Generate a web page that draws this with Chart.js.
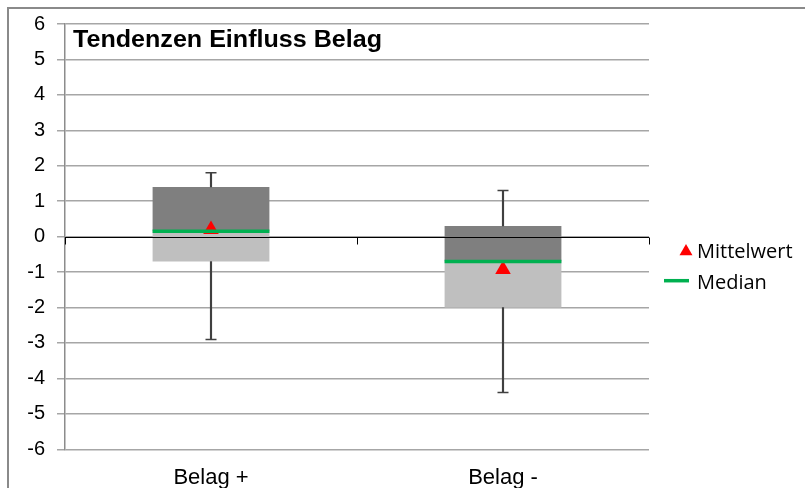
<!DOCTYPE html>
<html>
<head>
<meta charset="utf-8">
<script src="https://cdn.jsdelivr.net/npm/chart.js@4.4.1/dist/chart.umd.min.js"></script>
<style>
  html, body { margin: 0; padding: 0; background: #fff; }
  #wrap { position: relative; width: 805px; height: 488px; }
</style>
</head>
<body>
<div id="wrap"><canvas id="c" width="805" height="488"></canvas></div>
<script>
// Box plot summary per category
const categories  = ['Belag +', 'Belag -'];
const whiskerLow  = [-2.9, -4.4];
const quartile1   = [-0.7, -2.0];
const median      = [0.15, -0.7];
const quartile3   = [1.4, 0.3];
const whiskerHigh = [1.8, 1.3];
const mean        = [0.2, -0.93];

const yMin = -6, yMax = 6, yStep = 1;
const chartTitle = 'Tendenzen Einfluss Belag';
const legendLabels = ['Mittelwert', 'Median'];

const ARIAL = "'Liberation Sans', Arial, sans-serif";
const LEGEND_FONT = "'Open Sans', 'Noto Sans', sans-serif";
const RED = '#ff0000', GREEN = '#00b050', WHISKER = '#404040';

const pair = (a, b) => categories.map((_, i) => [a[i], b[i]]);

// Frame, zero axis with category dividers, title and legend
const decor = {
  id: 'decor',
  beforeDraw(chart) {
    const ctx = chart.ctx;
    ctx.save();
    ctx.fillStyle = '#fff';
    ctx.fillRect(0, 0, chart.width, chart.height);
    ctx.fillStyle = '#8a8a8a';
    ctx.fillRect(7, 7, chart.width - 7, 2);
    ctx.fillRect(7, 7, 2, chart.height - 7);
    ctx.restore();
  },
  afterDatasetsDraw(chart) {
    // horizontal axis crossing at y = 0, drawn over the boxes
    const ctx = chart.ctx, area = chart.chartArea, y = chart.scales.y;
    const y0 = Math.round(y.getPixelForValue(0)) + 0.5;
    ctx.save();
    ctx.strokeStyle = '#000';
    ctx.lineWidth = 1;
    ctx.beginPath();
    ctx.moveTo(area.left, y0);
    ctx.lineTo(area.right, y0);
    const n = categories.length;
    for (let i = 0; i <= n; i++) {
      const px = Math.round(area.left + i * (area.right - area.left) / n) + 0.5;
      ctx.moveTo(px, y0);
      ctx.lineTo(px, y0 + 7);
    }
    ctx.stroke();
    ctx.restore();
  },
  afterDraw(chart) {
    const ctx = chart.ctx;
    const area = chart.chartArea;
    ctx.save();
    // title inside the plot, slightly widened
    ctx.fillStyle = '#000';
    ctx.font = "bold 23px " + ARIAL;
    ctx.textBaseline = 'alphabetic';
    ctx.textAlign = 'left';
    const tw = ctx.measureText(chartTitle).width;
    const sx = 309 / tw;
    ctx.save();
    ctx.translate(area.left + 8, 47);
    ctx.scale(sx, 1);
    ctx.fillText(chartTitle, 0, 0);
    ctx.restore();

    // legend
    const lx = area.right + 37;
    ctx.font = "20px " + LEGEND_FONT;
    ctx.fillStyle = '#000';
    ctx.fillText(legendLabels[0], lx + 11, 258);
    ctx.fillText(legendLabels[1], lx + 11, 288.5);
    const tx = lx, ty = 251.5, r = 7.5;
    ctx.fillStyle = RED;
    ctx.beginPath();
    ctx.moveTo(tx, ty - r);
    ctx.lineTo(tx + r * Math.sqrt(3) / 2, ty + r / 2);
    ctx.lineTo(tx - r * Math.sqrt(3) / 2, ty + r / 2);
    ctx.closePath();
    ctx.fill();
    ctx.strokeStyle = GREEN;
    ctx.lineWidth = 3.5;
    ctx.beginPath();
    ctx.moveTo(lx - 22, 280.7);
    ctx.lineTo(lx + 3, 280.7);
    ctx.stroke();
    ctx.restore();
  }
};

const boxCommon = { type: 'bar', grouped: false, barPercentage: 0.4, categoryPercentage: 1, borderWidth: 0, order: 5 };
const whiskerCommon = { type: 'bar', grouped: false, barThickness: 1.5, backgroundColor: WHISKER, borderWidth: 0, order: 4 };
const capCommon = { type: 'line', showLine: false, pointStyle: 'line', pointRadius: 5.5, pointHoverRadius: 5.5,
  pointBorderColor: WHISKER, pointBorderWidth: 1.5, order: 3 };

new Chart(document.getElementById('c'), {
  type: 'bar',
  data: {
    labels: categories,
    datasets: [
      Object.assign({ label: 'Q1-Median', data: pair(quartile1, median), backgroundColor: '#bfbfbf' }, boxCommon),
      Object.assign({ label: 'Median-Q3', data: pair(median, quartile3), backgroundColor: '#7f7f7f' }, boxCommon),
      Object.assign({ label: 'Whisker oben', data: pair(quartile3, whiskerHigh) }, whiskerCommon),
      Object.assign({ label: 'Whisker unten', data: pair(whiskerLow, quartile1) }, whiskerCommon),
      Object.assign({ label: 'Max', data: whiskerHigh }, capCommon),
      Object.assign({ label: 'Min', data: whiskerLow }, capCommon),
      { type: 'line', label: legendLabels[0], data: mean, showLine: false, pointStyle: 'triangle',
        pointRadius: 9, pointHoverRadius: 9, pointBackgroundColor: RED, pointBorderWidth: 0, order: 2 },
      { type: 'line', label: legendLabels[1], data: median, showLine: false, pointStyle: 'line',
        pointRadius: 58.4, pointHoverRadius: 58.4, pointBorderColor: GREEN, pointBorderWidth: 3.5, order: 1 }
    ]
  },
  options: {
    responsive: false,
    animation: false,
    devicePixelRatio: 1,
    layout: { autoPadding: false, padding: { left: 0, right: 156, top: 21, bottom: 0 } },
    plugins: { legend: { display: false }, tooltip: { enabled: false }, title: { display: false } },
    scales: {
      x: {
        type: 'category',
        position: 'bottom',
        offset: true,
        grid: { display: false },
        border: { display: false },
        ticks: { color: '#000', font: { family: ARIAL, size: 22 }, padding: 7 },
        afterFit(scale) { scale.height = 38.7; }
      },
      y: {
        min: yMin,
        max: yMax,
        ticks: { stepSize: yStep, color: '#000', font: { family: ARIAL, size: 20 }, padding: 12 },
        grid: { color: '#a6a6a6', lineWidth: 1.5, tickLength: 8 },
        border: { color: '#8c8c8c', width: 1.5 },
        afterFit(scale) { scale.width = 65; }
      }
    }
  },
  plugins: [decor]
});
</script>
</body>
</html>
